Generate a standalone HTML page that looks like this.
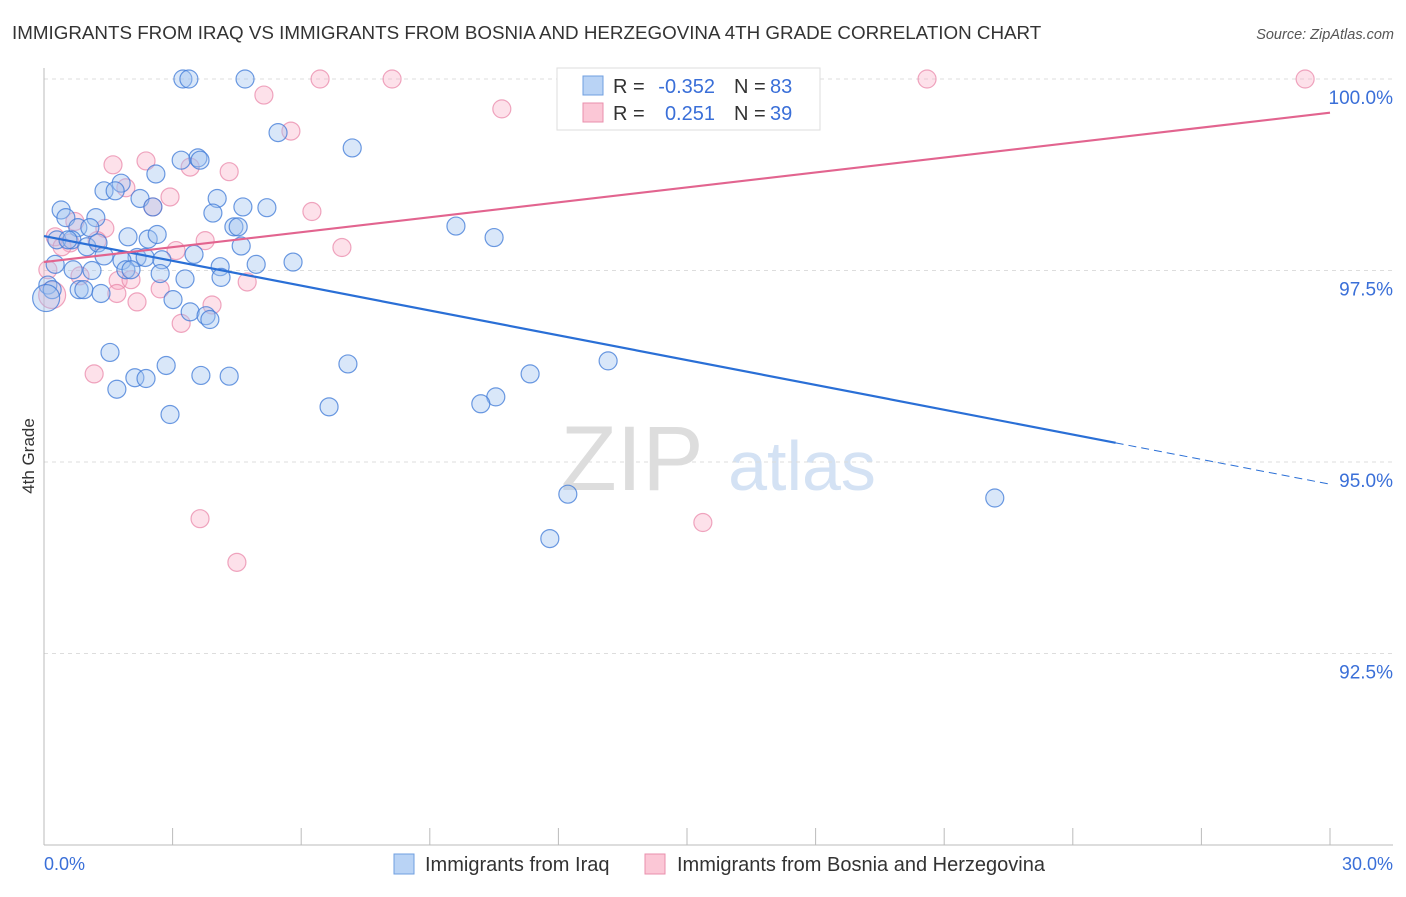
<!DOCTYPE html>
<html><head><meta charset="utf-8"><style>
body{margin:0;background:#fff;font-family:"Liberation Sans",sans-serif;}
svg text{font-family:"Liberation Sans",sans-serif;}
</style></head><body>
<svg id="chart" width="1406" height="892" xmlns="http://www.w3.org/2000/svg">
<text x="12" y="39" font-size="18.8" fill="#333">IMMIGRANTS FROM IRAQ VS IMMIGRANTS FROM BOSNIA AND HERZEGOVINA 4TH GRADE CORRELATION CHART</text>
<text x="1394" y="39" font-size="14.5" fill="#555" text-anchor="end" font-style="italic">Source: ZipAtlas.com</text>
<g>
<text x="632" y="490" font-size="92" fill="#ddd" text-anchor="middle" font-family="Liberation Serif">ZIP</text>
<text x="802" y="490" font-size="70" fill="#d4e2f4" text-anchor="middle">atlas</text>
</g>
<g id="grid"></g>
<g id="axes"></g>
<g id="pts"></g>
<g id="lines"></g>
<text transform="translate(34,456) rotate(-90)" font-size="17" fill="#333" text-anchor="middle">4th Grade</text>
<g>
<rect x="557" y="68" width="263" height="62" fill="#fff" stroke="#ddd"/>
<rect x="583" y="76" width="20" height="19" fill="#b9d3f5" stroke="#6f9fe0"/>
<rect x="583" y="103" width="20" height="19" fill="#fbc7d6" stroke="#e98fac"/>
<text x="613" y="93" font-size="20" fill="#333">R =</text>
<text x="715" y="93" font-size="20" fill="#3a6fd8" text-anchor="end">-0.352</text>
<text x="734" y="93" font-size="20" fill="#333">N =</text>
<text x="770" y="93" font-size="20" fill="#3a6fd8">83</text>
<text x="613" y="120" font-size="20" fill="#333">R =</text>
<text x="715" y="120" font-size="20" fill="#3a6fd8" text-anchor="end">0.251</text>
<text x="734" y="120" font-size="20" fill="#333">N =</text>
<text x="770" y="120" font-size="20" fill="#3a6fd8">39</text>
</g>
<g>
<rect x="394" y="854" width="20" height="20" fill="#b9d3f5" stroke="#6f9fe0"/>
<text x="425" y="871" font-size="20" fill="#333">Immigrants from Iraq</text>
<rect x="645" y="854" width="20" height="20" fill="#fbc7d6" stroke="#e98fac"/>
<text x="677" y="871" font-size="20" fill="#333">Immigrants from Bosnia and Herzegovina</text>
</g>
</svg>
<script>
const iraqX=[3.24,3.38,4.69,14.09,5.46,7.19,3.59,3.20,3.64,2.61,1.80,1.40,1.66,2.24,4.04,2.54,0.40,3.94,4.64,5.20,0.51,1.21,4.43,4.53,9.61,10.50,0.79,1.07,1.96,2.43,2.64,0.30,0.65,1.00,1.26,4.60,0.56,1.40,2.17,2.36,2.75,3.50,1.82,0.26,0.68,1.12,1.91,2.03,2.71,3.29,4.11,4.13,4.95,5.81,0.09,0.19,0.82,0.93,1.33,3.01,3.41,3.78,3.87,1.54,2.85,7.09,13.16,11.34,2.12,2.38,3.66,4.32,1.70,10.54,10.19,6.65,2.94,12.22,22.18,11.80,0.05];
const iraqY=[100,100,100,100,99.30,99.10,98.97,98.94,98.94,98.76,98.64,98.54,98.54,98.44,98.44,98.33,98.29,98.25,98.33,98.32,98.19,98.19,98.07,98.07,98.08,97.93,98.06,98.06,97.94,97.91,97.97,97.90,97.90,97.81,97.86,97.82,97.90,97.69,97.67,97.67,97.64,97.71,97.63,97.58,97.51,97.50,97.51,97.51,97.46,97.39,97.55,97.41,97.58,97.61,97.31,97.25,97.25,97.25,97.20,97.12,96.96,96.91,96.86,96.43,96.26,96.28,96.32,96.15,96.10,96.09,96.13,96.12,95.95,95.85,95.76,95.72,95.62,94.58,94.53,94.00,97.14];
const bosX=[6.44,8.12,20.60,29.42,5.13,10.68,5.76,1.61,2.38,3.41,4.32,1.91,2.94,2.54,6.25,0.72,1.42,0.26,0.61,1.24,3.76,3.08,6.95,0.42,0.09,0.84,1.73,2.03,4.74,2.71,1.70,2.17,3.92,3.20,1.17,3.64,15.37,4.50,0.19];
const bosY=[100,100,100,100,99.79,99.61,99.32,98.88,98.93,98.85,98.79,98.58,98.46,98.33,98.27,98.14,98.05,97.94,97.86,97.89,97.89,97.76,97.80,97.81,97.51,97.43,97.37,97.38,97.35,97.26,97.20,97.09,97.05,96.81,96.15,94.26,94.21,93.69,97.18];
const yTicks=[100,97.5,95,92.5];
const yTickLabels=["100.0%","97.5%","95.0%","92.5%"];
const iraqTrend=[97.95,94.71];
const bosTrend=[97.61,99.56];
const NS="http://www.w3.org/2000/svg";
const X0=44,X1=1330,Y0=79,Y1=845;
const sx=v=>X0+(v/30)*(X1-X0);
const sy=v=>Y0+(100-v)/10*(Y1-Y0);
function mk(tag,attrs,parent){const e=document.createElementNS(NS,tag);for(const k in attrs)e.setAttribute(k,attrs[k]);document.getElementById(parent).appendChild(e);return e;}
yTicks.forEach((t,i)=>{
 const l=mk('line',{x1:X0,x2:1393,y1:sy(t),y2:sy(t),stroke:'#ddd','stroke-dasharray':'4,4'},'grid');
 
 
 const tx=mk('text',{x:1393,y:sy(t)+25,'font-size':19,fill:'#3a6fd8','text-anchor':'end'},'grid');
 tx.textContent=yTickLabels[i];
 
 
});
const ax=mk('line',{x1:X0,x2:1393,y1:Y1,y2:Y1,stroke:'#bbb'},'axes');


const ay=mk('line',{x1:X0,x2:X0,y1:68,y2:Y1,stroke:'#bbb'},'axes');


for(let i=0;i<=10;i++){
 const t=mk('line',{x1:sx(i*3),x2:sx(i*3),y1:828,y2:Y1,stroke:'#bbb'},'axes');
 
 
}
const xl0=mk('text',{x:44,y:870,'font-size':18,fill:'#3a6fd8'},'axes');xl0.textContent='0.0%';


const xl1=mk('text',{x:1393,y:870,'font-size':18,fill:'#3a6fd8','text-anchor':'end'},'axes');xl1.textContent='30.0%';


bosX.forEach((x,i)=>{
 const c=mk('circle',{cx:sx(x),cy:sy(bosY[i]),r:i==bosX.length-1?13.5:9,fill:'rgba(248,170,195,0.35)',stroke:'rgba(232,130,165,0.7)','stroke-width':1.2},'pts');
 
 
});
iraqX.forEach((x,i)=>{
 const c=mk('circle',{cx:sx(x),cy:sy(iraqY[i]),r:i==iraqX.length-1?13.5:9,fill:'rgba(160,195,240,0.4)',stroke:'rgba(60,120,215,0.75)','stroke-width':1.2},'pts');
 
 
});
const by=x=>iraqTrend[0]+(iraqTrend[1]-iraqTrend[0])*x/30;
const l1=mk('line',{x1:sx(0),y1:sy(by(0)),x2:sx(25),y2:sy(by(25)),stroke:'#2a6fd6','stroke-width':2.2},'lines');


const l2=mk('line',{x1:sx(25),y1:sy(by(25)),x2:sx(30),y2:sy(by(30)),stroke:'#2a6fd6','stroke-width':1,'stroke-dasharray':'8,5'},'lines');


const l3=mk('line',{x1:sx(0),y1:sy(bosTrend[0]),x2:sx(30),y2:sy(bosTrend[1]),stroke:'#e2648f','stroke-width':2.2},'lines');


</script>
</body></html>
